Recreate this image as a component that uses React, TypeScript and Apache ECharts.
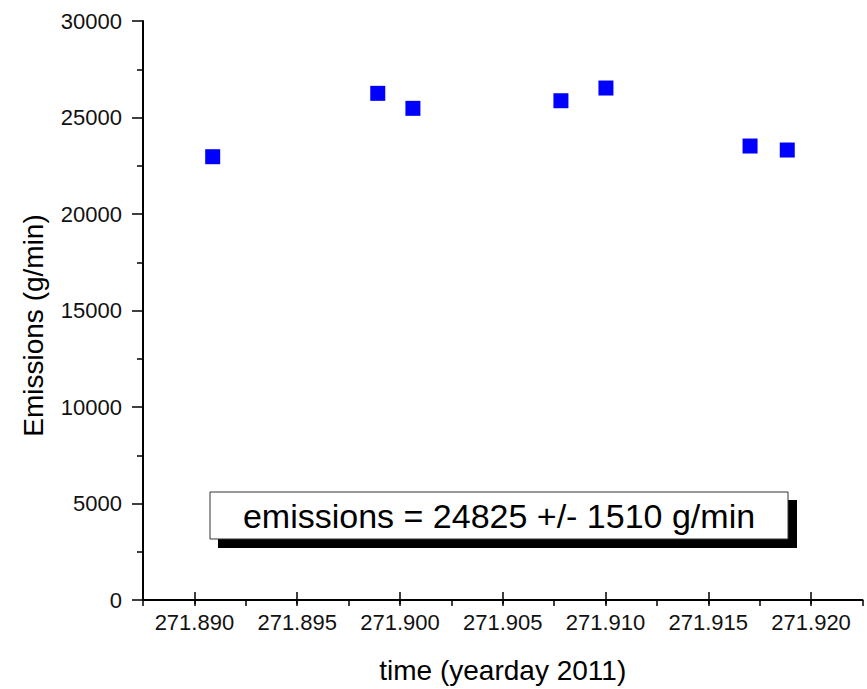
import React, { useEffect, useRef } from 'react';
import * as echarts from 'echarts';

// yearday 2011
const times = [271.89089, 271.89892, 271.90063, 271.90783, 271.91002, 271.91703, 271.91884];
// emissions (g/min)
const emissions = [22968, 26252, 25475, 25869, 26527, 23522, 23315];

const xTitle = 'time (yearday 2011)';
const yTitle = 'Emissions (g/min)';
const annotation = 'emissions = 24825 +/- 1510 g/min';

export default function App() {
  const ref = useRef<HTMLDivElement>(null);
  useEffect(() => {
    document.body.style.margin = '0';
    const chart = echarts.init(ref.current!, undefined, { renderer: 'svg', width: 867, height: 689 });
    const font = '"Liberation Sans", Arial, sans-serif';
    const black = '#000';
    chart.setOption({
      animation: false,
      backgroundColor: '#fff',
      textStyle: { fontFamily: font },
      grid: [
        { left: 143, right: 4.5, top: 21, bottom: 89 },
        { left: 194.4, right: 55.9, top: 21, bottom: 89 },
      ],
      xAxis: [
        {
          gridIndex: 0,
          type: 'value',
          min: 271.8875,
          max: 271.9225,
          interval: 0.0025,
          axisLine: { show: true, onZero: false, lineStyle: { color: black, width: 2 } },
          axisTick: { show: true, length: 6, lineStyle: { color: black, width: 1.5 } },
          axisLabel: { show: false },
          splitLine: { show: false },
        },
        {
          gridIndex: 1,
          type: 'value',
          min: 271.89,
          max: 271.92,
          interval: 0.005,
          axisLine: { show: false, onZero: false },
          axisTick: { show: true, length: 12, lineStyle: { color: black, width: 1.5 } },
          axisLabel: {
            fontSize: 22,
            color: '#111',
            margin: 19,
            fontFamily: font,
            formatter: (v: number) => v.toFixed(3),
          },
          splitLine: { show: false },
          name: xTitle,
          nameLocation: 'middle',
          nameGap: 64,
          nameTextStyle: { fontSize: 28, color: black, fontFamily: font },
        },
      ],
      yAxis: [
        {
          gridIndex: 0,
          type: 'value',
          min: 0,
          max: 30000,
          interval: 5000,
          axisLine: { show: true, onZero: false, lineStyle: { color: black, width: 2 } },
          axisTick: { show: true, length: 11, lineStyle: { color: black, width: 1.5 } },
          minorTick: { show: true, splitNumber: 2, length: 6, lineStyle: { color: black, width: 1.5 } },
          axisLabel: {
            fontSize: 22,
            color: '#111',
            margin: 21,
            fontFamily: font,
            formatter: (v: number) => String(v),
          },
          splitLine: { show: false },
          minorSplitLine: { show: false },
          name: yTitle,
          nameLocation: 'middle',
          nameGap: 96,
          nameTextStyle: { fontSize: 28, color: black, fontFamily: font, padding: [0, 30, 0, 0] },
        },
        { gridIndex: 1, type: 'value', show: false, min: 0, max: 1 },
      ],
      series: [
        {
          type: 'scatter',
          xAxisIndex: 0,
          yAxisIndex: 0,
          symbol: 'rect',
          symbolSize: 15,
          itemStyle: { color: '#0000ff', opacity: 1 },
          data: times.map((t, i) => [t, emissions[i]]),
        },
      ],
      graphic: [
        { type: 'rect', shape: { x: 218, y: 500, width: 579, height: 48 }, style: { fill: '#000' } },
        {
          type: 'rect',
          shape: { x: 210, y: 492, width: 578, height: 47 },
          style: { fill: '#fff', stroke: '#333', lineWidth: 1 },
        },
        {
          type: 'text',
          x: 499,
          y: 515.5,
          style: {
            text: annotation,
            fontSize: 34,
            fill: black,
            fontFamily: font,
            align: 'center',
            verticalAlign: 'middle',
            textAlign: 'center',
            textVerticalAlign: 'middle',
          },
        },
      ],
    });
    return () => chart.dispose();
  }, []);
  return <div ref={ref} style={{ width: 867, height: 689 }} />;
}
